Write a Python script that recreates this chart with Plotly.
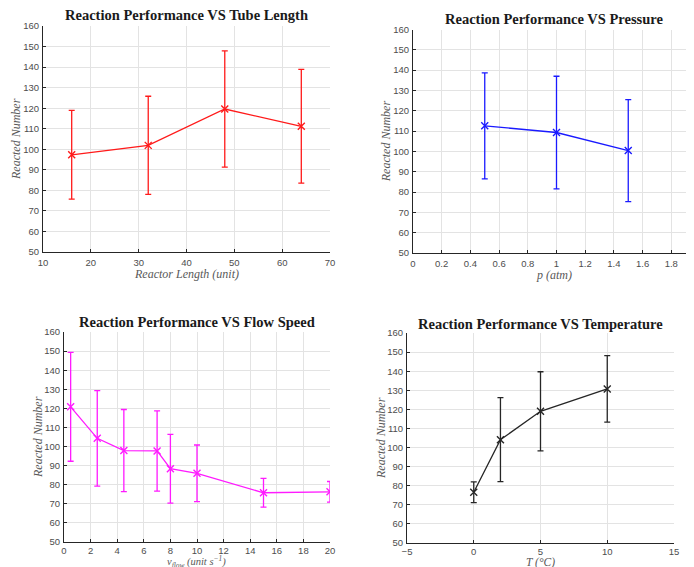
import plotly.graph_objects as go

# ---- data ----
length_x = [16, 32, 48, 64]
length_y = [97.3, 101.9, 119.6, 111.2]
length_err = [21.6, 23.9, 28.3, 27.7]

press_x = [0.5, 1.0, 1.5]
press_y = [112.6, 109.3, 100.4]
press_err = [26.1, 27.7, 25.1]

flow_x = [0.5, 2.5, 4.5, 7, 8, 10, 15, 20]
flow_y = [120.8, 104.3, 97.9, 97.7, 88.4, 86.0, 75.8, 76.3]
flow_err = [28.5, 25.0, 21.5, 21.0, 18.0, 14.8, 7.5, 5.4]

temp_x = [0, 2, 5, 10]
temp_y = [76.6, 104.1, 119.0, 130.7]
temp_err = [5.4, 22.0, 20.7, 17.4]

titles = ["Reaction Performance VS Tube Length", "Reaction Performance VS Pressure",
          "Reaction Performance VS Flow Speed", "Reaction Performance VS Temperature"]
xlabels = ["Reactor Length (unit)", "p (atm)",
           "v<sub>flow</sub> (unit s<sup>−1</sup>)", "T (°C)"]
ylabel = "Reacted Number"

# page body has an 8px margin -> figure shifted; compensate
OFF = 8
W, H = 694 - OFF, 567 - OFF

def px(x):
    return (x - OFF) / W

def py(y):
    return 1 - (y - OFF) / H

# plot boxes in window pixel coords: (left, right, top, bottom)
boxes = [(43, 330, 26, 252), (413, 694, 29.5, 253), (64, 330, 332, 542), (407, 674, 333, 543)]
xranges = [[10, 70], [0, (694 - 413) / 143.5], [0, 20], [-5, 15]]
xdticks = [10, 0.2, 2, 5]
colors = ["#ff1a1a", "#1a1aff", "#ff1aff", "#262626"]
series = [(length_x, length_y, length_err), (press_x, press_y, press_err),
          (flow_x, flow_y, flow_err), (temp_x, temp_y, temp_err)]
title_y = [15, 19, 322, 324]
xlab_y = [274, 275, 561.5, 562]
xlab_size = [12, 12, 10.5, 11.5]
xtick_standoff = [2, 2, 0, 0]
ylab_x = [16, 386, 38, 381]

fig = go.Figure()
layout = dict(width=W, height=H, margin=dict(l=0, r=0, t=0, b=0, pad=0),
              paper_bgcolor="white", plot_bgcolor="white", showlegend=False)
annotations = []

tickfont = dict(family="Liberation Sans, Arial", size=9.5, color="#4d4d4d")

for i, ((xs, ys, es), col, box) in enumerate(zip(series, colors, boxes)):
    n = "" if i == 0 else str(i + 1)
    l, r, t, b = box
    fig.add_trace(go.Scatter(
        x=xs, y=ys, mode="lines+markers",
        xaxis="x" + n, yaxis="y" + n,
        line=dict(color=col, width=1.3),
        marker=dict(symbol="x-thin", size=7, line=dict(color=col, width=1.4), color=col),
        error_y=dict(type="data", array=es, visible=True, color=col, thickness=1.3, width=3),
        hoverinfo="skip"))
    axcommon = dict(showgrid=True, gridcolor="#e3e3e3", gridwidth=1,
                    showline=True, linecolor="#262626", linewidth=1,
                    ticks="inside", ticklen=3, tickcolor="#262626",
                    tickfont=tickfont, zeroline=False, mirror=False, automargin=False)
    layout["xaxis" + n] = dict(axcommon, domain=[px(l), min(px(r), 1.0)], range=xranges[i],
                               dtick=xdticks[i], tick0=0, anchor="y" + n,
                               ticklabelstandoff=xtick_standoff[i])
    layout["yaxis" + n] = dict(axcommon, domain=[py(b), py(t)], range=[50, 160],
                               dtick=10, anchor="x" + n, ticklabelstandoff=1)
    cx = (l + r) / 2 if i != 1 else 554
    annotations.append(dict(text="<b>" + titles[i] + "</b>", x=px(cx), y=py(title_y[i]),
                            xref="paper", yref="paper", showarrow=False,
                            xanchor="center", yanchor="middle",
                            font=dict(family="Liberation Serif, DejaVu Serif", size=14.5, color="#1a1a1a")))
    annotations.append(dict(text="<i>" + xlabels[i] + "</i>", x=px(cx), y=py(xlab_y[i]),
                            xref="paper", yref="paper", showarrow=False,
                            xanchor="center", yanchor="middle",
                            font=dict(family="Liberation Serif, DejaVu Serif", size=xlab_size[i], color="#595959")))
    annotations.append(dict(text="<i>" + ylabel + "</i>", x=px(ylab_x[i]), y=py((t + b) / 2),
                            xref="paper", yref="paper", showarrow=False, textangle=-90,
                            xanchor="center", yanchor="middle",
                            font=dict(family="Liberation Serif, DejaVu Serif", size=12, color="#595959")))

layout["annotations"] = annotations
fig.update_layout(**layout)
fig.write_html("out.html")
